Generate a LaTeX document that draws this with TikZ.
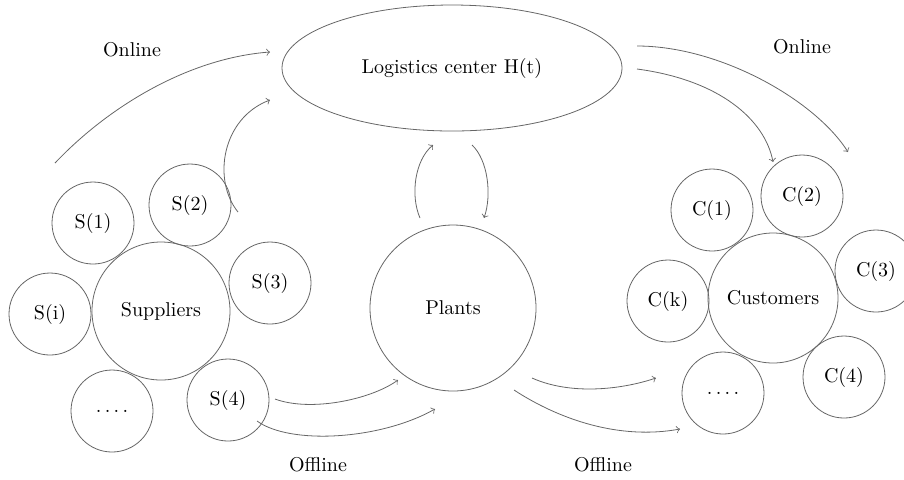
\documentclass[tikz,border=0pt]{standalone}
\usetikzlibrary{shapes.geometric}

\tikzset{
    unit/.style={circle, draw=black!60, line width=0.4pt, minimum size=41pt, inner sep=0pt},
    hub/.style={unit, minimum size=#1},
    flow/.style={->, draw=black!60, line width=0.4pt},
}

\begin{document}
\begin{tikzpicture}[x=0.5pt, y=-0.5pt, >=to]
        \useasboundingbox (0,0) rectangle (904,479);

        %Logistikzentrum und Werke
        \node[ellipse, draw=black!60, line width=0.4pt, minimum width=170pt, minimum height=63pt](lc) at (452,68){Logistics center H(t)};
        \node[hub=83pt](pl) at (453,308){Plants};

        %Lieferanten
        \node[hub=69pt](sup) at (161,311){Suppliers};
        \node[unit](s1) at (93,223){S(1)};
        \node[unit](s2) at (190,205){S(2)};
        \node[unit](s3) at (270,283){S(3)};
        \node[unit](si) at (50,314){S(i)};
        \node[unit](sd) at (112,411){.\,.\,.\,.};
        \node[unit](s4) at (228,400){S(4)};

        %Kunden
        \node[hub=65pt](cus) at (773,298){Customers};
        \node[unit](c1) at (712,210){C(1)};
        \node[unit](c2) at (802,196){C(2)};
        \node[unit](c3) at (876,271){C(3)};
        \node[unit](ck) at (668,301){C(k)};
        \node[unit](cd) at (723,393){.\,.\,.\,.};
        \node[unit](c4) at (844,377){C(4)};

        %Beschriftungen
        \node(on1) at (132,50){Online};
        \node(on2) at (802,47){Online};
        \node(off1) at (318,465){Offline};
        \node(off2) at (603,465){Offline};

        %Pfeilenden
        \coordinate(a0) at (55,163);
        \coordinate(a1) at (270,52);
        \coordinate(b0) at (238,212);
        \coordinate(b1) at (270,100);
        \coordinate(p0) at (420,218);
        \coordinate(p1) at (433,145);
        \coordinate(q0) at (472,145);
        \coordinate(q1) at (484,218);
        \coordinate(d0) at (637,46);
        \coordinate(d1) at (848,152);
        \coordinate(e0) at (637,69);
        \coordinate(e1) at (773,162);
        \coordinate(f0) at (275,399);
        \coordinate(f1) at (398,380);
        \coordinate(g0) at (257,421);
        \coordinate(g1) at (435,409);
        \coordinate(h0) at (532,378);
        \coordinate(h1) at (656,378);
        \coordinate(k0) at (514,390);
        \coordinate(k1) at (680,429);

        \draw[flow](a0) .. controls (110,105) and (190,58) .. (a1);
        \draw[flow](b0) .. controls (212,180) and (222,118) .. (b1);
        \draw[flow](p0) .. controls (410,195) and (415,160) .. (p1);
        \draw[flow](q0) .. controls (488,160) and (492,195) .. (q1);
        \draw[flow](d0) .. controls (720,46) and (815,100) .. (d1);
        \draw[flow](e0) .. controls (720,80) and (765,120) .. (e1);
        \draw[flow](f0) .. controls (310,412) and (370,400) .. (f1);
        \draw[flow](g0) .. controls (290,445) and (380,440) .. (g1);
        \draw[flow](h0) .. controls (570,395) and (620,390) .. (h1);
        \draw[flow](k0) .. controls (560,420) and (620,440) .. (k1);
\end{tikzpicture}
\end{document}
